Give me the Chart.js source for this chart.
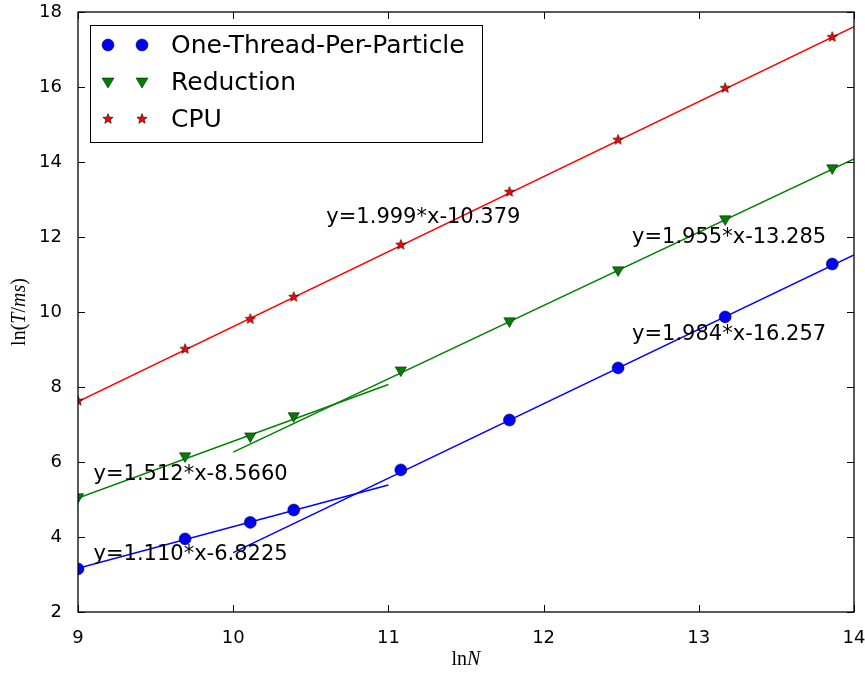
<!DOCTYPE html>
<html>
<head>
<meta charset="utf-8">
<script src="https://cdn.jsdelivr.net/npm/chart.js@4.4.0/dist/chart.umd.min.js"></script>
<style>
  html, body { margin: 0; padding: 0; background: #fff; }
  #wrap { width: 865px; height: 675px; }
</style>
</head>
<body>
<div id="wrap"><canvas id="c" width="865" height="675"></canvas></div>
<script>
// measured points (x = ln N, y = ln(T/ms))
const lnN = [9.0, 9.69, 10.11, 10.39, 11.08, 11.78, 12.48, 13.17, 13.86];
const oneThread = [3.15, 3.95, 4.39, 4.72, 5.79, 7.12, 8.51, 9.87, 11.28];
const reduction = [5.07, 6.16, 6.69, 7.23, 8.45, 9.76, 11.12, 12.48, 13.84];
const cpu = [7.63, 9.01, 9.81, 10.40, 11.79, 13.20, 14.59, 15.97, 17.33];

// fitted lines, end points
const oneShortX = [9, 11],  oneShortY = [3.168, 5.388];
const oneLongX = [10, 14],  oneLongY = [3.583, 11.519];
const redShortX = [9, 11],  redShortY = [5.042, 8.066];
const redLongX = [10, 14],  redLongY = [6.265, 14.085];
const cpuFitX = [9, 14],    cpuFitY = [7.612, 17.607];

// equation labels
const eqTexts = ["y=1.999*x-10.379", "y=1.955*x-13.285", "y=1.984*x-16.257", "y=1.512*x-8.5660", "y=1.110*x-6.8225"];
const eqX = [10.6, 12.57, 12.57, 9.1, 9.1];
const eqY = [12.37, 11.85, 9.26, 5.52, 3.4];

const seriesNames = ["One-Thread-Per-Particle", "Reduction", "CPU"];
const xTicks = [9, 10, 11, 12, 13, 14];
const yTicks = [2, 4, 6, 8, 10, 12, 14, 16, 18];

const BLUE = "#0000ff", GREEN = "#008000", RED = "#ff0000";

const pts = (xs, ys) => xs.map((x, i) => ({ x: x, y: ys[i] }));

// filled star marker like matplotlib '*'
function starImage() {
  const s = 14;
  const c = document.createElement("canvas");
  c.width = c.height = s;
  const g = c.getContext("2d");
  g.beginPath();
  for (let i = 0; i < 10; i++) {
    const r = i % 2 ? 2.3 : 5.4;
    const a = -Math.PI / 2 + i * Math.PI / 5;
    g.lineTo(s / 2 + r * Math.cos(a), s / 2 + r * Math.sin(a));
  }
  g.closePath();
  g.fillStyle = RED;
  g.fill();
  g.lineWidth = 0.6;
  g.strokeStyle = "#000";
  g.stroke();
  return c;
}
const star = starImage();

function fitLine(xs, ys, color) {
  return {
    data: pts(xs, ys), showLine: true, borderColor: color, borderWidth: 1.5,
    pointRadius: 0, fill: false, order: 2
  };
}

// box, inward ticks, equation texts, legend, axis titles
const decor = {
  id: "decor",
  afterDatasetsDraw(chart) {
    const ctx = chart.ctx, a = chart.chartArea;
    const xs = chart.scales.x, ys = chart.scales.y;
    ctx.save();
    ctx.strokeStyle = "#000";
    ctx.lineWidth = 1;
    ctx.beginPath();
    xTicks.forEach(v => {
      const px = Math.round(xs.getPixelForValue(v)) + 0.5;
      ctx.moveTo(px, a.bottom); ctx.lineTo(px, a.bottom - 7);
      ctx.moveTo(px, a.top); ctx.lineTo(px, a.top + 7);
    });
    yTicks.forEach(v => {
      const py = Math.round(ys.getPixelForValue(v)) + 0.5;
      ctx.moveTo(a.left, py); ctx.lineTo(a.left + 7, py);
      ctx.moveTo(a.right, py); ctx.lineTo(a.right - 7, py);
    });
    ctx.stroke();
    ctx.lineWidth = 1.3;
    ctx.strokeRect(a.left, a.top, a.right - a.left, a.bottom - a.top);

    // equations
    ctx.fillStyle = "#000";
    ctx.font = "21px 'DejaVu Sans'";
    ctx.textAlign = "left";
    ctx.textBaseline = "alphabetic";
    eqTexts.forEach((t, i) => {
      ctx.fillText(t, xs.getPixelForValue(eqX[i]), ys.getPixelForValue(eqY[i]));
    });

    // legend
    const lx = a.left + 12, ly = a.top + 13, lw = 392, lh = 117;
    ctx.fillStyle = "#fff";
    ctx.fillRect(lx, ly, lw, lh);
    ctx.lineWidth = 1;
    ctx.strokeStyle = "#000";
    ctx.strokeRect(lx + 0.5, ly + 0.5, lw, lh);
    ctx.font = "25px 'DejaVu Sans'";
    ctx.textBaseline = "middle";
    seriesNames.forEach((name, i) => {
      const cy = ly + 20 + i * 37;
      [lx + 18, lx + 52].forEach(mx => {
        ctx.lineWidth = 0.5;
        ctx.strokeStyle = "#000";
        if (i === 0) {
          ctx.beginPath(); ctx.arc(mx, cy, 6, 0, Math.PI * 2);
          ctx.fillStyle = BLUE; ctx.fill(); ctx.stroke();
        } else if (i === 1) {
          ctx.beginPath();
          ctx.moveTo(mx - 6, cy - 4); ctx.lineTo(mx + 6, cy - 4); ctx.lineTo(mx, cy + 6);
          ctx.closePath(); ctx.fillStyle = GREEN; ctx.fill(); ctx.stroke();
        } else {
          ctx.drawImage(star, mx - 7, cy - 7);
        }
      });
      ctx.fillStyle = "#000";
      ctx.fillText(name, lx + 81, cy + 1);
    });

    // axis titles with math italics
    const drawParts = (parts, cx, cy, rot) => {
      ctx.save();
      ctx.translate(cx, cy);
      ctx.rotate(rot);
      let total = 0;
      parts.forEach(p => { ctx.font = p[1]; total += ctx.measureText(p[0]).width; });
      let x = -total / 2;
      ctx.textAlign = "left";
      ctx.textBaseline = "middle";
      ctx.fillStyle = "#000";
      parts.forEach(p => { ctx.font = p[1]; ctx.fillText(p[0], x, 0); x += ctx.measureText(p[0]).width; });
      ctx.restore();
    };
    const up = "20px 'Liberation Serif'", it = "italic 20px 'Liberation Serif'";
    drawParts([["ln(", up], ["T", it], ["/", up], ["ms", it], [")", up]], 20, (a.top + a.bottom) / 2, -Math.PI / 2);
    drawParts([["ln", up], ["N", it]], (a.left + a.right) / 2, 660, 0);
    ctx.restore();
  }
};

new Chart(document.getElementById("c"), {
  type: "scatter",
  data: {
    datasets: [
      { data: pts(lnN, oneThread), backgroundColor: BLUE, borderColor: "#000", borderWidth: 0.5,
        pointStyle: "circle", pointRadius: 6, order: 1 },
      { data: pts(lnN, reduction), backgroundColor: GREEN, borderColor: "#000", borderWidth: 0.5,
        pointStyle: "triangle", rotation: 180, pointRadius: 6.5, order: 1 },
      { data: pts(lnN, cpu), pointStyle: star, pointRadius: 6, order: 1 },
      fitLine(oneShortX, oneShortY, BLUE),
      fitLine(oneLongX, oneLongY, BLUE),
      fitLine(redShortX, redShortY, GREEN),
      fitLine(redLongX, redLongY, GREEN),
      fitLine(cpuFitX, cpuFitY, RED)
    ]
  },
  options: {
    responsive: false,
    animation: false,
    layout: { padding: { top: 12, right: 11, left: 0, bottom: 0 } },
    plugins: { legend: { display: false }, tooltip: { enabled: false } },
    scales: {
      x: {
        type: "linear", min: 9, max: 14,
        ticks: { stepSize: 1, color: "#000", padding: 8, font: { family: "DejaVu Sans", size: 18 } },
        grid: { display: false }, border: { display: false },
        afterFit(s) { s.height = 63; s.paddingLeft = 0; s.paddingRight = 0; }
      },
      y: {
        type: "linear", min: 2, max: 18,
        ticks: { stepSize: 2, color: "#000", padding: 8, font: { family: "DejaVu Sans", size: 18 } },
        grid: { display: false }, border: { display: false },
        afterFit(s) { s.width = 78; s.paddingTop = 0; s.paddingBottom = 0; }
      }
    }
  },
  plugins: [decor]
});
</script>
</body>
</html>
